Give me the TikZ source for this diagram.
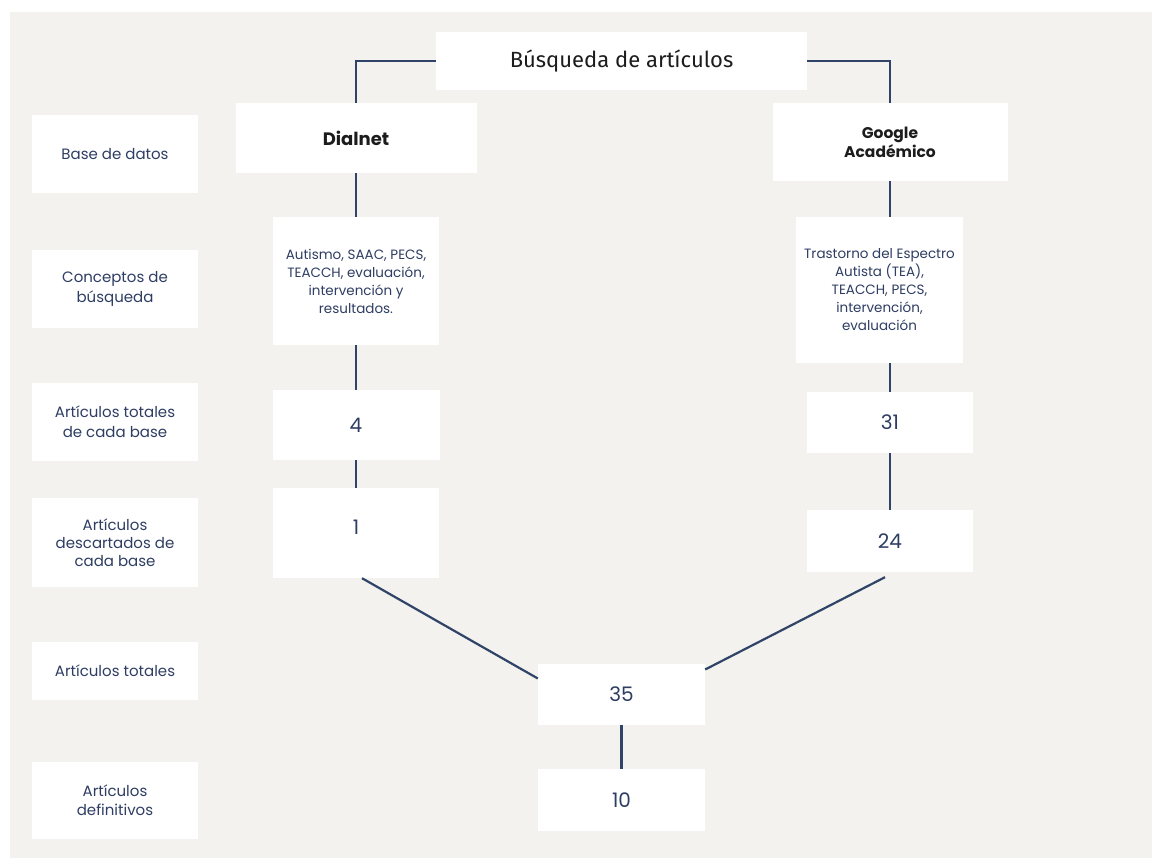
\documentclass[tikz,border=0pt]{standalone}
\usepackage{fontspec}
\setmainfont{Poppins}
\newfontfamily\titlefont{Fira Sans}
\usepackage{tikz}
\usepackage{xcolor}
\definecolor{fondo}{HTML}{F3F2EE}
\definecolor{azul}{HTML}{2F4468}
\definecolor{texto}{HTML}{2E3D63}
\definecolor{negro}{HTML}{1C1C1C}

\begin{document}
\begin{tikzpicture}[x=1pt,y=-1pt,
  caja/.style={fill=white,inner sep=0pt,align=center,text=texto},
  linea/.style={draw=azul,line width=2.2pt},
  every node/.style={font=\fontsize{13.5}{18}\selectfont}]
\useasboundingbox (0,0) rectangle (1152,858);
\fill[white] (0,0) rectangle (1152,858);
\fill[fondo] (10,12) rectangle (1152,858);
\node[caja,minimum width=371pt,minimum height=58pt,text=negro,font=\titlefont\fontsize{22}{24}\selectfont] (busq) at (621.5,61) {Búsqueda de artículos};
\node[caja,minimum width=241pt,minimum height=70pt,text=negro,font=\bfseries\fontsize{18}{20}\selectfont] (dialnet) at (356,138) {Dialnet};
\node[caja,minimum width=235pt,minimum height=78pt,text=negro,font=\bfseries\fontsize{15.5}{19}\selectfont] (google) at (890,142) {Google\\Académico};
\node[caja,minimum width=166pt,minimum height=128pt] (conD) at (356,281) {Autismo, SAAC, PECS,\\TEACCH, evaluación,\\intervención y\\resultados.};
\node[caja,minimum width=167pt,minimum height=146pt] (conG) at (879.5,290) {Trastorno del Espectro\\Autista (TEA),\\TEACCH, PECS,\\intervención,\\evaluación};
\node[caja,minimum width=167pt,minimum height=70pt,font=\fontsize{20}{22}\selectfont] (totD) at (356,425) {4};
\node[caja,minimum width=166pt,minimum height=90pt,font=\fontsize{20}{22}\selectfont] (desD) at (356,533) {\raisebox{12pt}{1}};
\node[caja,minimum width=166pt,minimum height=61pt,font=\fontsize{20}{22}\selectfont] (totG) at (890,422.5) {31};
\node[caja,minimum width=166pt,minimum height=62pt,font=\fontsize{20}{22}\selectfont] (desG) at (890,541) {24};
\node[caja,minimum width=167pt,minimum height=61pt,font=\fontsize{20}{22}\selectfont] (total) at (621.5,694.5) {35};
\node[caja,minimum width=167pt,minimum height=62pt,font=\fontsize{20}{22}\selectfont] (final) at (621.5,800) {10};
\node[caja,minimum width=166pt,minimum height=78pt,font=\fontsize{15}{20}\selectfont] (base) at (115,154) {Base de datos};
\node[caja,minimum width=166pt,minimum height=78pt,font=\fontsize{15}{20}\selectfont] (conceptos) at (115,289) {Conceptos de\\búsqueda};
\node[caja,minimum width=166pt,minimum height=78pt,font=\fontsize{15}{20}\selectfont] (totales) at (115,422) {Artículos totales\\de cada base};
\node[caja,minimum width=166pt,minimum height=89pt,font=\fontsize{15}{18}\selectfont] (descartados) at (115,542.5) {Artículos\\descartados de\\cada base};
\node[caja,minimum width=166pt,minimum height=58pt,font=\fontsize{15}{20}\selectfont] (suma) at (115,671) {Artículos totales};
\node[caja,minimum width=166pt,minimum height=77pt,font=\fontsize{15}{19}\selectfont] (definitivos) at (115,800.5) {Artículos\\definitivos};
\draw[linea] (busq.west) -| (dialnet.north);
\draw[linea] (busq.east) -| (google.north);
\draw[linea] (dialnet.south) -- (conD.north);
\draw[linea] (google.south) -- (google.south |- conG.north);
\draw[linea] (conD.south) -- (totD.north);
\draw[linea] (totG.north |- conG.south) -- (totG.north);
\draw[linea] (totD.south) -- (desD.north);
\draw[linea] (totG.south) -- (desG.north);
\draw[linea] ([xshift=6pt]desD.south) -- ([yshift=16pt]total.west);
\draw[linea] ([xshift=-5pt,yshift=-5pt]desG.south) -- ([yshift=25pt]total.east);
\draw[linea] (total.south) -- (final.north);
\end{tikzpicture}
\end{document}
